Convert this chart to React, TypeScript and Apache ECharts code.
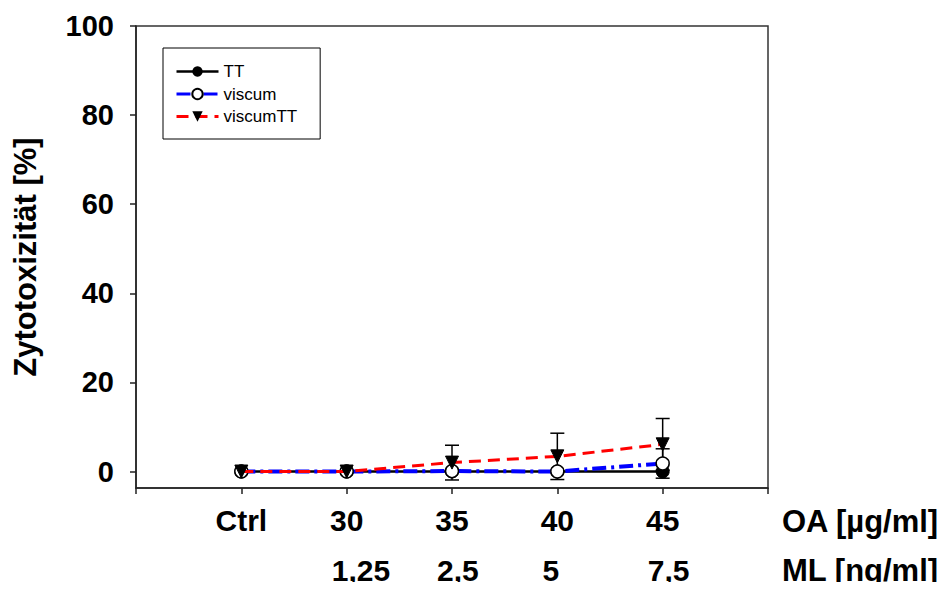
import React, { useEffect, useRef } from "react";
import * as echarts from "echarts";

const categories = ["Ctrl", "30", "35", "40", "45"];
const mlLabels = ["", "1,25", "2,5", "5", "7,5"];
const ttValues = [0, 0, 0, 0, 0];
const viscumValues = [0, 0, 0.1, 0, 1.8];
const viscumTTValues = [0, 0, 2.0, 3.4, 6.1];
const viscumErr = [0, 0, 0, 0, 3.3];
const viscumTTErr = [0, 0, 3.9, 5.2, 5.8];
const yTicks = [0, 20, 40, 60, 80, 100];
const xTicks = [-1, 0, 1, 2, 3, 4, 5];

const FONT = "Liberation Sans, Arial, sans-serif";

export default function App() {
  const ref = useRef<HTMLDivElement>(null);
  useEffect(() => {
    if (!ref.current) return;
    const chart = echarts.init(ref.current, null, { renderer: "svg" });
    const pts = (vals: number[]) => vals.map((v, i) => [i, v]);
    const errData: number[][] = [];
    viscumTTValues.forEach((v, i) => {
      if (viscumTTErr[i] > 0) errData.push([i, v - viscumTTErr[i], v + viscumTTErr[i]]);
    });
    viscumValues.forEach((v, i) => {
      if (viscumErr[i] > 0) errData.push([i, v - viscumErr[i], v + viscumErr[i]]);
    });
    const shift = 0.142;
    chart.setOption({
      animation: false,
      grid: {
        left: 136,
        top: 26,
        right: 183,
        bottom: 102,
        show: true,
        borderColor: "#333",
        borderWidth: 1.5,
        backgroundColor: "transparent",
      },
      legend: {
        data: [
          { name: "TT", lineStyle: { width: 2.5 } },
          { name: "viscum", lineStyle: { width: 3 } },
          { name: "viscumTT", lineStyle: { width: 3 } },
        ],
        orient: "vertical",
        left: 163,
        top: 48,
        itemWidth: 42,
        itemHeight: 13,
        itemGap: 5.5,
        padding: [15, 23, 14, 12],
        borderColor: "#000",
        borderWidth: 1,
        backgroundColor: "#fff",
        textStyle: { fontFamily: FONT, fontSize: 17, color: "#000" },
      },
      xAxis: [
        {
          type: "value",
          min: -1,
          max: 5,
          interval: 1,
          splitLine: { show: false },
          axisLine: { onZero: false, lineStyle: { color: "#222", width: 1.5 } },
          axisTick: { show: true, length: 6, lineStyle: { color: "#222", width: 1.5 }, customValues: xTicks },
          axisLabel: {
            customValues: [0, 1, 2, 3, 4],
            formatter: (v: number) => categories[Math.round(v)] ?? "",
            fontFamily: FONT,
            fontWeight: "bold",
            fontSize: 30,
            color: "#000",
            margin: 17,
          },
        },
        {
          type: "value",
          position: "bottom",
          offset: 50,
          min: -1 + shift,
          max: 5 + shift,
          splitLine: { show: false },
          axisLine: { show: false, onZero: false },
          axisTick: { show: false },
          axisLabel: {
            customValues: [1, 2, 3, 4],
            formatter: (v: number) => mlLabels[Math.round(v)] ?? "",
            align: "left",
            fontFamily: FONT,
            fontWeight: "bold",
            fontSize: 30,
            color: "#000",
            margin: 17,
          },
        },
      ],
      yAxis: {
        type: "value",
        min: -3.7,
        max: 100,
        splitLine: { show: false },
        axisLine: { show: true, onZero: false, lineStyle: { color: "#222", width: 1.5 } },
        axisTick: { show: true, length: 6, customValues: yTicks, lineStyle: { color: "#222", width: 1.5 } },
        axisLabel: {
          customValues: yTicks,
          fontFamily: FONT,
          fontWeight: "bold",
          fontSize: 29,
          color: "#000",
          margin: 22,
        },
        name: "Zytotoxizität [%]",
        nameLocation: "middle",
        nameGap: 95,
        nameTextStyle: { fontFamily: FONT, fontWeight: "bold", fontSize: 31, color: "#000" },
      },
      graphic: [
        {
          type: "text",
          left: 782,
          top: 506,
          style: { text: "OA [µg/ml]", font: `bold 31px ${FONT}`, fill: "#000" },
        },
        {
          type: "text",
          left: 782,
          top: 555,
          style: { text: "ML [ng/ml]", font: `bold 31px ${FONT}`, fill: "#000" },
        },
      ],
      series: [
        {
          type: "custom",
          z: 1,
          xAxisIndex: 0,
          data: errData,
          renderItem: (params: any, api: any) => {
            const x = api.value(0);
            const lo = api.coord([x, api.value(1)]);
            const hi = api.coord([x, api.value(2)]);
            const w = 7;
            const st = { stroke: "#000", lineWidth: 1.5 };
            return {
              type: "group",
              children: [
                { type: "line", shape: { x1: lo[0], y1: lo[1], x2: hi[0], y2: hi[1] }, style: st },
                { type: "line", shape: { x1: lo[0] - w, y1: lo[1], x2: lo[0] + w, y2: lo[1] }, style: st },
                { type: "line", shape: { x1: hi[0] - w, y1: hi[1], x2: hi[0] + w, y2: hi[1] }, style: st },
              ],
            };
          },
        },
        {
          name: "TT",
          type: "line",
          z: 2,
          data: pts(ttValues),
          symbol: "circle",
          symbolSize: 13,
          lineStyle: { color: "#000", width: 2.5, type: "solid" },
          itemStyle: { color: "#000", borderColor: "#000" },
        },
        {
          name: "viscum",
          type: "line",
          z: 3,
          data: pts(viscumValues),
          symbol: "circle",
          symbolSize: 13,
          lineStyle: { color: "#0000ff", width: 4, type: [14, 5, 3, 5] },
          itemStyle: { color: "#fff", borderColor: "#000", borderWidth: 1.5 },
        },
        {
          name: "viscumTT",
          type: "line",
          z: 4,
          data: pts(viscumTTValues),
          symbol: "triangle",
          symbolRotate: 180,
          symbolSize: 13,
          lineStyle: { color: "#ff0000", width: 3, type: [12, 7] },
          itemStyle: { color: "#000", borderColor: "#000" },
        },
      ],
    });
    return () => chart.dispose();
  }, []);
  return <div ref={ref} style={{ width: 951, height: 590, margin: -8 }} />;
}
